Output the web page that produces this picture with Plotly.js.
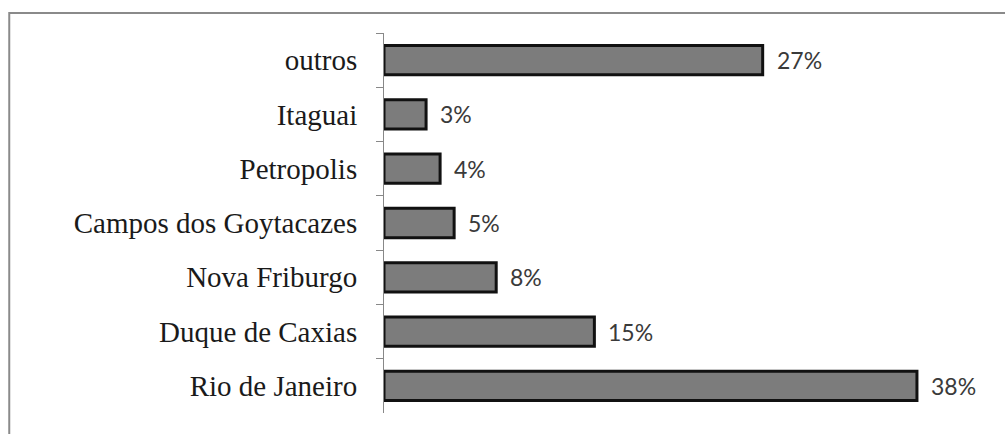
<!DOCTYPE html>
<html>
<head>
<meta charset="utf-8">
<script src="https://cdn.plot.ly/plotly-3.0.1.min.js"></script>
<style>html,body{margin:0;padding:0;background:#fff;}#chart{width:1005px;height:434px;}</style>
</head>
<body>
<div id="chart"></div>
<script>
const categories = ["outros", "Itaguai", "Petropolis", "Campos dos Goytacazes", "Nova Friburgo", "Duque de Caxias", "Rio de Janeiro"];
const values = [27, 3, 4, 5, 8, 15, 38];
const valueLabels = ["27%", "3%", "4%", "5%", "8%", "15%", "38%"];

const trace = {
  type: 'bar',
  orientation: 'h',
  y: categories,
  x: values,
  marker: {color: '#7c7c7c', line: {color: '#111111', width: 3}},
  width: 0.54,
  hoverinfo: 'skip'
};

const annotations = categories.map((c, i) => ({
  x: values[i], y: c, xref: 'x', yref: 'y',
  text: valueLabels[i], showarrow: false,
  xanchor: 'left', xshift: 12, yshift: 0,
  font: {family: 'Lato, "Liberation Sans", sans-serif', size: 23, color: '#3a3a3a'}
}));

const layout = {
  width: 1005, height: 434,
  margin: {l: 384, r: 60, t: 33, b: 21},
  paper_bgcolor: '#ffffff', plot_bgcolor: '#ffffff',
  showlegend: false,
  xaxis: {range: [0, 40], visible: false, fixedrange: true},
  yaxis: {
    autorange: 'reversed', type: 'category',
    showline: true, linecolor: '#888888', linewidth: 1,
    ticks: 'outside', tickson: 'boundaries', ticklen: 7, tickcolor: '#888888', tickwidth: 1,
    ticklabelstandoff: 20,
    showgrid: false, zeroline: false,
    tickfont: {family: '"Liberation Serif", "Times New Roman", serif', size: 29, color: '#1a1a1a'},
    fixedrange: true
  },
  annotations: annotations,
  shapes: [
    {type: 'rect', xref: 'paper', yref: 'paper', x0: -0.668, x1: 1.2, y0: -0.1, y1: 1.0526,
     line: {color: '#8a8a8a', width: 2}, fillcolor: 'rgba(0,0,0,0)', layer: 'below'}
  ]
};

Plotly.newPlot('chart', [trace], layout, {displayModeBar: false, staticPlot: true});
</script>
</body>
</html>
